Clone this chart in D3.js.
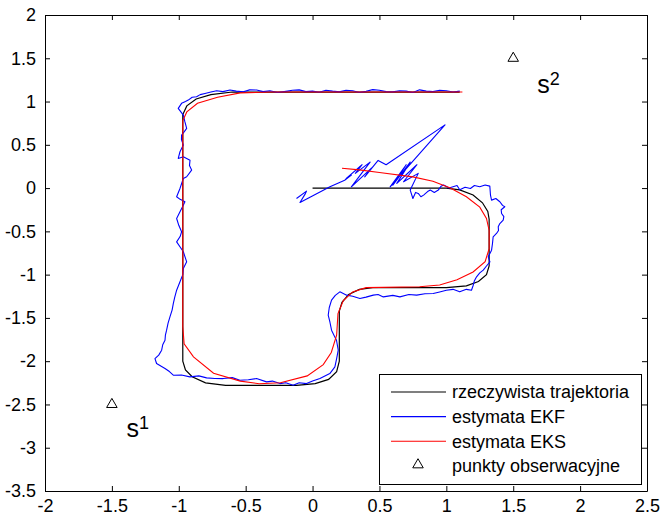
<!DOCTYPE html>
<html>
<head>
<meta charset="utf-8">
<script src="https://cdn.jsdelivr.net/npm/d3@7/dist/d3.min.js"></script>
<style>
  body { margin: 0; background: #fff; }
  text { font-family: "Liberation Sans", Arial, sans-serif; fill: #000; }
</style>
</head>
<body>
<script>
// tick values
var xTicks = [-2, -1.5, -1, -0.5, 0, 0.5, 1, 1.5, 2, 2.5];
var yTicks = [-3.5, -3, -2.5, -2, -1.5, -1, -0.5, 0, 0.5, 1, 1.5, 2];

// true trajectory [x, y]
var truePath = [
  [0, 0], [1.0, 0], [1.1, -0.02], [1.2, -0.08], [1.27, -0.17], [1.31, -0.27], [1.32, -0.36],
  [1.32, -0.9], [1.3, -1.0], [1.24, -1.08], [1.15, -1.13], [1.0, -1.15],
  [0.45, -1.15], [0.35, -1.17], [0.27, -1.23], [0.22, -1.32], [0.2, -1.42],
  [0.2, -2.0], [0.18, -2.12], [0.12, -2.21], [0.02, -2.26], [-0.12, -2.28],
  [-0.65, -2.28], [-0.8, -2.25], [-0.9, -2.18], [-0.95, -2.1], [-0.97, -2.0],
  [-0.97, 0.85], [-0.94, 0.95], [-0.87, 1.03], [-0.76, 1.08], [-0.6, 1.11],
  [1.1, 1.11]
];

// EKF estimate [x, y]
var ekfPath = [
  [-0.12, -0.12], [-0.045, -0.035], [-0.057, -0.073], [-0.094, -0.166], [0.13, 0.015],
  [0.24, 0.09], [0.29, 0.15], [0.25, 0.11], [0.37, 0.27], [0.32, 0.17], [0.43, 0.30],
  [0.29, 0.015], [0.44, 0.23], [0.39, 0.13], [0.49, 0.32], [0.55, 0.27],
  [0.99, 0.73], [0.58, 0.015], [0.70, 0.27], [0.60, 0.035], [0.73, 0.30], [0.63, 0.054],
  [0.78, 0.27], [0.68, 0.073], [0.79, 0.17], [0.73, -0.023], [0.75, -0.12], [0.77, -0.05],
  [0.79, -0.062], [0.81, -0.10], [0.83, -0.081], [0.86, -0.04], [0.88, -0.023],
  [0.91, -0.05], [0.94, -0.023], [0.96, 0.02], [0.98, 0.035], [1.02, 0.0], [1.05, 0.015],
  [1.08, 0.03], [1.10, -0.02], [1.14, 0.01], [1.18, -0.004], [1.21, 0.03], [1.25, 0.015],
  [1.29, 0.035], [1.325, 0.023], [1.33, -0.08], [1.338, -0.139], [1.37, -0.12],
  [1.40, -0.158], [1.42, -0.2], [1.437, -0.216], [1.41, -0.25], [1.413, -0.293],
  [1.43, -0.33], [1.425, -0.37], [1.40, -0.41], [1.388, -0.447], [1.39, -0.49],
  [1.375, -0.524], [1.35, -0.563], [1.345, -0.64], [1.338, -0.717], [1.313, -0.794],
  [1.326, -0.852], [1.30, -0.90], [1.276, -0.948], [1.25, -0.98], [1.226, -1.025],
  [1.21, -1.07], [1.201, -1.122], [1.188, -1.18], [1.15, -1.17], [1.1, -1.199],
  [1.05, -1.17], [1.0, -1.18], [0.95, -1.2], [0.902, -1.218], [0.84, -1.22],
  [0.778, -1.237], [0.72, -1.23], [0.653, -1.257], [0.6, -1.24], [0.529, -1.257],
  [0.49, -1.23], [0.454, -1.237], [0.40, -1.26], [0.354, -1.276], [0.30, -1.25],
  [0.255, -1.237], [0.204, -1.199], [0.17, -1.24], [0.142, -1.295], [0.125, -1.38],
  [0.117, -1.469], [0.13, -1.55], [0.142, -1.642], [0.16, -1.7], [0.179, -1.758],
  [0.192, -1.873], [0.18, -1.97], [0.167, -2.066], [0.129, -2.143], [0.055, -2.201],
  [0.0, -2.23], [-0.045, -2.259], [-0.1, -2.25], [-0.145, -2.278], [-0.2, -2.25],
  [-0.244, -2.259], [-0.3, -2.23], [-0.344, -2.239], [-0.419, -2.201], [-0.48, -2.215],
  [-0.543, -2.22], [-0.6, -2.19], [-0.668, -2.201], [-0.73, -2.2], [-0.792, -2.193],
  [-0.85, -2.17], [-0.917, -2.181], [-0.98, -2.16], [-1.041, -2.162], [-1.07, -2.12],
  [-1.103, -2.085], [-1.166, -2.027], [-1.178, -1.97], [-1.15, -1.93], [-1.128, -1.873],
  [-1.12, -1.81], [-1.103, -1.758], [-1.10, -1.7], [-1.091, -1.642], [-1.08, -1.56],
  [-1.066, -1.488], [-1.05, -1.41], [-1.041, -1.334], [-1.03, -1.26], [-1.016, -1.18],
  [-0.991, -1.083], [-0.97, -1.0], [-0.966, -0.929], [-0.941, -0.852], [-0.966, -0.736],
  [-0.99, -0.68], [-1.016, -0.621], [-0.99, -0.56], [-0.979, -0.505], [-1.0, -0.43],
  [-1.016, -0.351], [-0.991, -0.274], [-0.97, -0.21], [-0.954, -0.158], [-0.99, -0.13],
  [-1.016, -0.1], [-0.991, -0.004], [-0.966, 0.111], [-0.941, 0.131], [-0.904, 0.208],
  [-0.92, 0.26], [-0.916, 0.323], [-0.966, 0.362], [-1.004, 0.343], [-0.991, 0.42],
  [-0.966, 0.497], [-0.98, 0.56], [-0.979, 0.613], [-0.96, 0.65], [-0.941, 0.69],
  [-0.955, 0.77], [-0.966, 0.844], [-1.004, 0.921], [-0.979, 0.979], [-0.95, 1.0],
  [-0.929, 1.017], [-0.9, 1.05], [-0.867, 1.056], [-0.84, 1.08], [-0.804, 1.094],
  [-0.76, 1.11], [-0.717, 1.125], [-0.67, 1.115], [-0.617, 1.133], [-0.57, 1.12],
  [-0.518, 1.113], [-0.47, 1.135], [-0.418, 1.133], [-0.37, 1.115], [-0.319, 1.125],
  [-0.26, 1.105], [-0.2, 1.118], [-0.15, 1.13], [-0.1, 1.135], [-0.05, 1.115],
  [0.0, 1.12], [0.05, 1.108], [0.1, 1.13], [0.15, 1.12], [0.2, 1.112], [0.25, 1.13],
  [0.3, 1.125], [0.35, 1.105], [0.4, 1.118], [0.45, 1.138], [0.5, 1.13], [0.55, 1.115],
  [0.6, 1.112], [0.65, 1.125], [0.7, 1.12], [0.75, 1.105], [0.8, 1.135], [0.85, 1.12],
  [0.9, 1.115], [0.95, 1.13], [1.0, 1.125], [1.05, 1.11], [1.1, 1.12]
];

// EKS estimate [x, y]
var eksPath = [
  [0.22, 0.23], [0.35, 0.21], [0.5, 0.18], [0.75, 0.13], [0.9, 0.08], [1.03, 0.0],
  [1.15, -0.1], [1.25, -0.22], [1.3, -0.35], [1.32, -0.49], [1.32, -0.7], [1.29, -0.85],
  [1.2, -0.97], [1.08, -1.06], [0.95, -1.12], [0.8, -1.14], [0.4, -1.15], [0.3, -1.2],
  [0.23, -1.3], [0.19, -1.45], [0.18, -1.7], [0.14, -1.9], [0.08, -2.04], [-0.04, -2.17],
  [-0.24, -2.25], [-0.4, -2.26], [-0.54, -2.23], [-0.74, -2.14], [-0.89, -1.95],
  [-0.96, -1.8], [-0.97, -1.6], [-0.97, 0.78], [-0.94, 0.88], [-0.86, 0.98],
  [-0.71, 1.05], [-0.54, 1.1], [-0.3, 1.11], [1.12, 1.11]
];

// observation points
var obsPoints = [[-1.5, -2.5], [1.5, 1.5]];
var obsNames = ['1', '2'];
var obsLabelPos = [[-1.39, -2.88], [1.68, 1.1]];

var legendNames = ['rzeczywista trajektoria', 'estymata EKF', 'estymata EKS', 'punkty obserwacyjne'];
var legendColors = ['#000', '#0000ff', '#ff0000', null];

var width = 662, height = 519;
var margin = {left: 45, top: 15, right: 15, bottom: 28};

var svg = d3.select('body')
  .append('svg')
    .attr('width', width)
    .attr('height', height);

var x = d3.scaleLinear().domain([-2, 2.5]).range([margin.left, width - margin.right]);
var y = d3.scaleLinear().domain([-3.5, 2]).range([height - margin.bottom, margin.top]);

var tickLen = 5;

// axes: ticks inside, on all four sides
svg.append('g')
  .attr('transform', 'translate(0,' + y(-3.5) + ')')
  .call(d3.axisBottom(x).tickValues(xTicks).tickSizeInner(-tickLen).tickSizeOuter(0).tickPadding(8)
    .tickFormat(function(d) { return String(d); }));
svg.append('g')
  .attr('transform', 'translate(0,' + y(2) + ')')
  .call(d3.axisTop(x).tickValues(xTicks).tickSizeInner(-tickLen).tickSizeOuter(0).tickFormat(''));
svg.append('g')
  .attr('transform', 'translate(' + x(-2) + ',0)')
  .call(d3.axisLeft(y).tickValues(yTicks).tickSizeInner(-tickLen).tickSizeOuter(0).tickPadding(9)
    .tickFormat(function(d) { return String(d); }));
svg.append('g')
  .attr('transform', 'translate(' + x(2.5) + ',0)')
  .call(d3.axisRight(y).tickValues(yTicks).tickSizeInner(-tickLen).tickSizeOuter(0).tickFormat(''));

svg.selectAll('.tick text')
  .style('font-size', '18px')
  .style('font-family', '"Liberation Sans", Arial, sans-serif')
  .attr('fill', '#000');
svg.selectAll('.domain, .tick line').attr('stroke', '#000');

var line = d3.line()
  .x(function(d) { return x(d[0]); })
  .y(function(d) { return y(d[1]); });

svg.append('path').datum(truePath)
  .attr('d', line).attr('fill', 'none').attr('stroke', '#000').attr('stroke-width', 1.2);
svg.append('path').datum(ekfPath)
  .attr('d', line).attr('fill', 'none').attr('stroke', '#0000ff').attr('stroke-width', 1.1)
  .attr('stroke-linejoin', 'round');
svg.append('path').datum(eksPath)
  .attr('d', line).attr('fill', 'none').attr('stroke', '#ff0000').attr('stroke-width', 1.1);

var tri = d3.symbol().type(d3.symbolTriangle).size(48);

svg.selectAll('.obs')
  .data(obsPoints)
  .enter().append('path')
    .attr('class', 'obs')
    .attr('d', tri)
    .attr('transform', function(d) { return 'translate(' + x(d[0]) + ',' + y(d[1]) + ')'; })
    .attr('fill', 'none')
    .attr('stroke', '#000')
    .attr('stroke-width', 1);

var lbl = svg.selectAll('.obslbl')
  .data(obsLabelPos)
  .enter().append('text')
    .attr('class', 'obslbl')
    .attr('x', function(d) { return x(d[0]); })
    .attr('y', function(d) { return y(d[1]); })
    .style('font-size', '25px')
    .text('s');
lbl.append('tspan')
  .attr('dy', -8)
  .style('font-size', '18px')
  .text(function(d, i) { return obsNames[i]; });

// legend
var lg = svg.append('g');
lg.append('rect')
  .attr('x', 379.5).attr('y', 374.5)
  .attr('width', 262).attr('height', 110)
  .attr('fill', '#fff').attr('stroke', '#000').attr('stroke-width', 1);

for (i = 0; i < legendNames.length; i++) {
  var ry = 392 + i * 24.6;
  if (legendColors[i]) {
    lg.append('line')
      .attr('x1', 391).attr('x2', 446)
      .attr('y1', ry).attr('y2', ry)
      .attr('stroke', legendColors[i]).attr('stroke-width', 1.1);
  } else {
    lg.append('path')
      .attr('d', tri)
      .attr('transform', 'translate(418,' + (ry - 1) + ')')
      .attr('fill', 'none').attr('stroke', '#000');
  }
  lg.append('text')
    .attr('x', 452).attr('y', ry)
    .attr('dy', '0.35em')
    .style('font-size', '18px')
    .text(legendNames[i]);
}
</script>
</body>
</html>
